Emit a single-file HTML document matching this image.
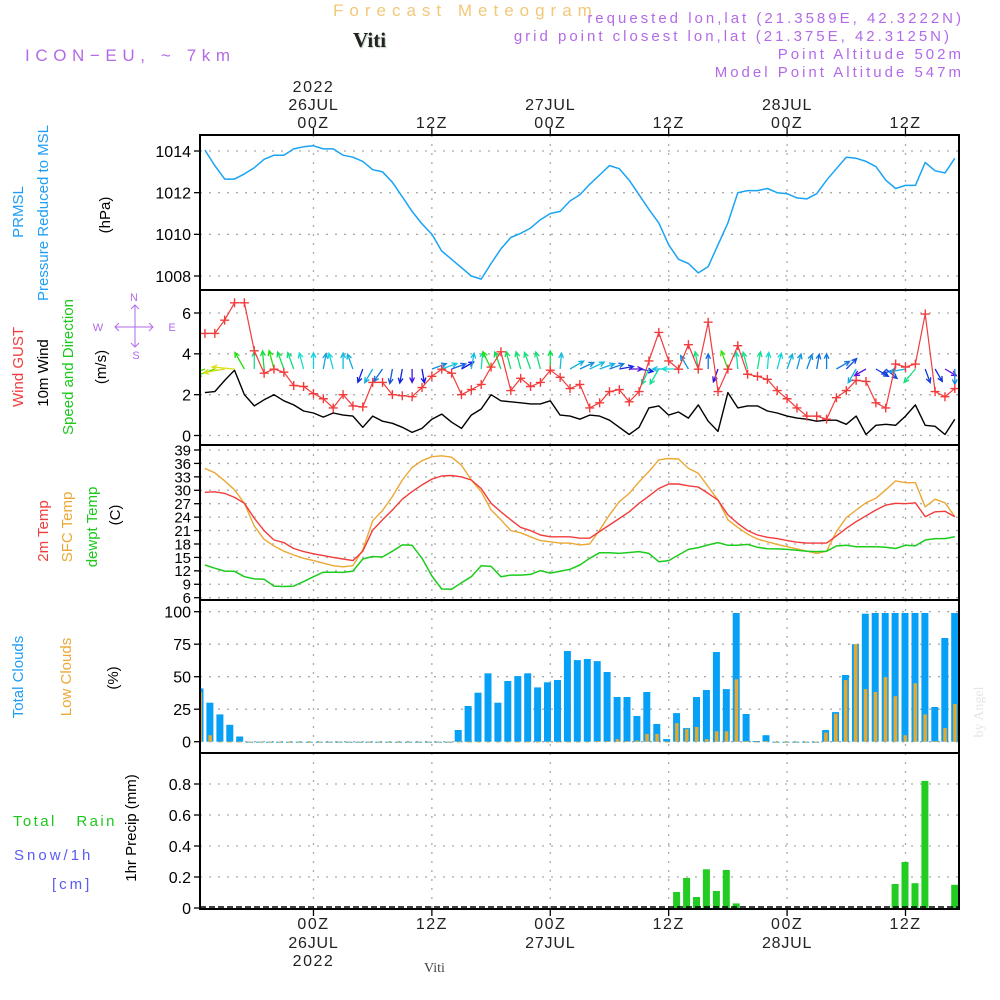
<!DOCTYPE html>
<html><head><meta charset="utf-8">
<style>
html,body{margin:0;padding:0;background:#fff;}
svg{display:block;font-family:"Liberation Sans",sans-serif;}
</style></head>
<body>
<svg id="chart" width="1000" height="1000" viewBox="0 0 1000 1000" xmlns="http://www.w3.org/2000/svg">
<rect x="0" y="0" width="1000" height="1000" fill="#fff"/>
<g id="header">
<text x="333" y="16" font-size="17" fill="#f2c879" letter-spacing="6">Forecast Meteogram</text>
<text x="353" y="47" font-size="21" font-weight="bold" font-family="Liberation Serif,serif" fill="#222" style="text-shadow:1px 1px 1px #bcd0bc">Viti</text>
<text x="25" y="61" font-size="17" fill="#b36ae8" letter-spacing="5.6">ICON−EU, ~ 7km</text>
<text x="964" y="23" font-size="15" fill="#b36ae8" text-anchor="end" letter-spacing="3">requested lon,lat (21.3589E, 42.3222N)</text>
<text x="952" y="41" font-size="15" fill="#b36ae8" text-anchor="end" letter-spacing="3">grid point closest lon,lat (21.375E, 42.3125N)</text>
<text x="964" y="59" font-size="15" fill="#b36ae8" text-anchor="end" letter-spacing="3">Point Altitude 502m</text>
<text x="964" y="77" font-size="15" fill="#b36ae8" text-anchor="end" letter-spacing="3">Model Point Altitude 547m</text>
</g>
<g id="left-labels" font-size="15">
<text transform="translate(23,212) rotate(-90)" text-anchor="middle" fill="#1e9ef5">PRMSL</text>
<text transform="translate(48,213) rotate(-90)" text-anchor="middle" fill="#1e9ef5">Pressure Reduced to MSL</text>
<text transform="translate(110,215) rotate(-90)" text-anchor="middle" fill="#000">(hPa)</text>
<text transform="translate(23,367) rotate(-90)" text-anchor="middle" fill="#f03c3c">Wind GUST</text>
<text transform="translate(48,373) rotate(-90)" text-anchor="middle" fill="#000">10m Wind</text>
<text transform="translate(73,367) rotate(-90)" text-anchor="middle" fill="#1cc81c">Speed and Direction</text>
<text transform="translate(106,367) rotate(-90)" text-anchor="middle" fill="#000">(m/s)</text>
<g fill="#b36ae8" stroke="#b36ae8" font-size="11">
<text x="134" y="301" text-anchor="middle" stroke="none">N</text>
<text x="98" y="331" text-anchor="middle" stroke="none">W</text>
<text x="172" y="331" text-anchor="middle" stroke="none">E</text>
<text x="136" y="359" text-anchor="middle" stroke="none">S</text>
<path d="M115,327 H153 M135,305 V347 M119,323 L115,327 L119,331 M149,323 L153,327 L149,331 M131,309 L135,305 L139,309 M131,343 L135,347 L139,343" fill="none" stroke-width="1"/>
</g>
<text transform="translate(48,531) rotate(-90)" text-anchor="middle" fill="#f03c3c">2m Temp</text>
<text transform="translate(72,527) rotate(-90)" text-anchor="middle" fill="#eba834">SFC Temp</text>
<text transform="translate(97,527) rotate(-90)" text-anchor="middle" fill="#1cc81c">dewpt Temp</text>
<text transform="translate(120,515) rotate(-90)" text-anchor="middle" fill="#000">(C)</text>
<text transform="translate(23,677) rotate(-90)" text-anchor="middle" fill="#1e9ef5">Total Clouds</text>
<text transform="translate(71,677) rotate(-90)" text-anchor="middle" fill="#eba834">Low Clouds</text>
<text transform="translate(118,678) rotate(-90)" text-anchor="middle" fill="#000">(%)</text>
<text transform="translate(136,828) rotate(-90)" text-anchor="middle" fill="#000">1hr Precip (mm)</text>
<text x="13" y="826" fill="#1cc81c" letter-spacing="2.4" xml:space="preserve" style="white-space:pre">Total   Rain</text>
<text x="14" y="860" fill="#5a5af5" letter-spacing="3">Snow/1h</text>
<text x="52" y="889" fill="#5a5af5" letter-spacing="3">[cm]</text>
</g>
<g id="plots"></g>
<text transform="translate(983,712) rotate(-90)" text-anchor="middle" font-family="Liberation Serif,serif" font-size="14" fill="#e6e6e6">by Angel</text>
<text x="424" y="972" font-family="Liberation Serif,serif" font-size="14" fill="#444">Viti</text>
</svg>
<script>
// ---- data ----
const pressure = [1014.05,1013.3,1012.65,1012.65,1012.9,1013.2,1013.6,1013.8,1013.8,1014.1,1014.2,1014.25,1014.1,1014.1,1013.8,1013.7,1013.5,1013.1,1013.0,1012.5,1011.8,1011.1,1010.5,1010.0,1009.2,1008.8,1008.4,1008.0,1007.85,1008.6,1009.3,1009.85,1010.05,1010.3,1010.7,1011.0,1011.1,1011.6,1011.9,1012.4,1012.85,1013.3,1013.15,1012.6,1011.9,1011.2,1010.55,1009.5,1008.8,1008.6,1008.15,1008.45,1009.5,1010.55,1012.0,1012.1,1012.1,1012.2,1012.0,1011.95,1011.75,1011.7,1011.95,1012.6,1013.15,1013.7,1013.65,1013.5,1013.25,1012.6,1012.2,1012.35,1012.35,1013.45,1013.05,1012.95,1013.65];
const wind10m = [2.1,2.15,2.7,3.2,2.0,1.45,1.75,2.0,1.7,1.5,1.2,1.1,0.9,1.1,1.0,0.95,0.4,0.95,0.7,0.6,0.4,0.15,0.35,0.8,1.05,0.65,0.35,1.0,1.3,2.0,1.7,1.65,1.6,1.55,1.55,1.7,1.0,0.95,0.8,1.0,0.95,0.75,0.4,0.05,0.4,1.35,1.45,1.0,1.15,0.85,1.5,0.7,0.2,2.1,1.35,1.45,1.45,1.2,1.1,0.95,0.85,0.8,0.7,0.75,0.75,0.55,0.95,0.05,0.5,0.55,0.5,0.95,1.5,0.5,0.45,0.05,0.8];
const windGust = [5.0,5.0,5.65,6.5,6.5,4.15,3.05,3.25,3.1,2.45,2.4,2.05,1.8,1.35,2.0,1.45,1.4,2.6,2.6,2.0,1.95,1.9,2.35,2.9,3.25,3.05,2.0,2.25,2.5,3.35,4.1,2.2,2.8,2.4,2.6,3.2,2.85,2.3,2.5,1.35,1.6,2.15,2.25,1.65,2.15,3.65,5.05,3.65,3.25,4.45,3.25,5.55,2.15,3.25,4.4,3.0,2.9,2.75,2.2,1.8,1.35,0.95,0.95,0.8,1.85,2.2,2.7,2.65,1.6,1.35,3.5,3.35,3.5,5.95,2.15,1.9,2.3];
const windDir = [250,250,260,275,330,0,355,345,340,340,345,0,10,345,0,340,200,210,215,190,190,180,170,70,70,70,60,10,5,335,340,345,345,340,345,0,5,60,65,65,70,70,80,90,100,205,210,270,270,330,350,0,200,340,355,345,10,5,15,20,15,20,10,0,60,45,210,240,120,130,250,260,220,160,150,120,180];
const temp2m = [29.55,29.65,29.3,28.4,27.1,23.75,21.0,18.9,18.3,17.0,16.3,15.8,15.4,15.0,14.65,14.3,16.4,21.1,23.4,25.6,28.0,29.7,31.2,32.5,33.2,33.3,33.0,32.3,30.4,27.1,25.2,23.4,21.7,21.0,20.0,19.6,19.6,19.6,19.3,19.3,20.8,22.25,23.7,25.2,27.1,28.7,30.4,31.4,31.4,31.0,30.7,29.3,27.8,24.5,22.6,21.0,20.0,19.5,19.2,18.75,18.4,18.2,18.2,18.2,19.8,21.5,23.0,24.3,25.6,26.7,27.1,27.0,27.2,24.1,25.2,25.3,24.1];
const tempSfc = [34.9,33.9,32.1,30.1,27.1,22.0,19.05,17.55,16.4,15.55,14.8,14.3,13.7,13.15,12.9,13.15,16.7,23.2,25.45,28.6,32.3,35.1,36.6,37.5,37.7,37.4,35.6,32.3,29.7,25.6,23.4,21.0,20.5,19.6,18.75,18.5,18.2,18.2,17.8,18.0,21.1,24.5,27.45,29.3,31.9,34.2,36.8,37.1,37.0,34.9,33.8,30.8,27.8,23.4,21.7,20.2,19.1,18.5,17.9,17.4,16.9,16.4,15.9,16.4,20.75,23.9,25.6,27.2,28.2,30.1,32.1,31.7,31.7,26.3,28.0,27.2,24.1];
const dewpt = [13.3,12.6,11.95,11.9,10.7,10.2,10.1,8.6,8.5,8.6,9.6,10.7,11.7,11.7,11.65,11.95,14.65,15.2,15.1,16.4,17.8,17.7,14.8,10.85,7.95,7.9,9.35,10.7,13.15,13.0,10.7,11.05,11.05,11.2,12.05,11.5,11.9,12.35,13.3,14.8,16.05,16.05,15.9,16.1,16.3,15.9,14.05,14.3,15.55,16.8,17.2,17.8,18.3,17.7,17.7,17.9,17.25,16.95,16.9,16.8,16.6,16.4,16.3,16.4,17.55,17.7,17.4,17.4,17.4,17.25,17.0,17.7,17.6,18.9,19.2,19.2,19.6];
const totalClouds = [41,30,21,13,4,0,0,0,0,0,0,0,0,0,0,0,0,0,0,0,0,0,0,0,0,0,9,27.5,37.7,52.6,30,46.7,50.5,52.6,41.8,45.7,47.5,69.8,62.8,63.6,62,53.6,34.4,34.4,19.8,38.2,13.6,2,22,10.5,34.4,39.8,69,40.5,99,21.3,0.5,5,0,0,0,0,0,9,22.8,51.3,75,98.5,99,99,99,99,99,99,26.7,79.8,99];
const lowClouds = [38,5,0,0,0,0,0,0,0,0,0,0,0,0,0,0,0,0,0,0,0,0,0,0,0,0,0,0,0,0,0,0,0,0,0,0,0,0,0,0,0.5,0.5,2,0.5,1,6,6,0,14.3,9.7,11.3,2,8,8,48,0.5,0,0.5,0,0,0,0,0,7,21.5,47.4,75,40.5,38.2,49.7,35,5,45,21,0.5,10.5,29];
const precip = [0,0,0,0,0,0,0,0,0,0,0,0,0,0,0,0,0,0,0,0,0,0,0,0,0,0,0,0,0,0,0,0,0,0,0,0,0,0,0,0,0,0,0,0,0,0,0,0,0.103,0.194,0.071,0.25,0.11,0.245,0.03,0,0,0,0,0,0,0,0,0,0,0,0,0,0,0,0.155,0.297,0.16,0.82,0,0,0.15];
const pressureTicks = [1008,1010,1012,1014];
const windTicks = [0,2,4,6];
const tempTicks = [6,9,12,15,18,21,24,27,30,33,36,39];
const cloudTicks = [0,25,50,75,100];
const precipTicks = [0,0.2,0.4,0.6,0.8];
const timeTicks = ["00Z","12Z","00Z","12Z","00Z","12Z"];
const timeTickHours = [11.5,23.5,35.5,47.5,59.5,71.5];
const dateLabels = ["26JUL","27JUL","28JUL"];
const dateHours = [11.5,35.5,59.5];

// ---- scales ----
const X0=200, X1=959, PXH=9.867;
const xTime = h => X0 + h*PXH;
const xLine = i => xTime(0.5 + i);
const xBar = j => X0 + j*9.93;
const lin = (d0,d1,r0,r1) => v => r0 + (v-d0)*(r1-r0)/(d1-d0);
const yP = lin(1008,1014,276,151);
const yW = lin(0,6,435.5,313);
const yT = lin(6,39,597.7,450);
const yC = lin(0,100,741.7,611.7);
const yR = lin(0,0.8,908,784);

const NS='http://www.w3.org/2000/svg';
const plots=document.getElementById('plots');
function mk(tag,attrs,parent){const e=document.createElementNS(NS,tag);for(const k in attrs)e.setAttribute(k,attrs[k]);(parent||plots).appendChild(e);return e;}

const panels=[
 {name:'pressure-panel',top:135,bot:290},
 {name:'wind-panel',top:290,bot:445},
 {name:'temp-panel',top:445,bot:600},
 {name:'cloud-panel',top:600,bot:753},
 {name:'precip-panel',top:753,bot:909}
];
const defs=mk('defs',{});
panels.forEach((p,k)=>{const c=mk('clipPath',{id:'clip'+k},defs);mk('rect',{x:X0,y:p.top,width:X1-X0,height:p.bot-p.top},c);});

function grid(p,k,ticks,yf,fmt,fs,name){
  const g=mk('g',{});
  
  
  timeTickHours.forEach(h=>{mk('line',{x1:xTime(h),x2:xTime(h),y1:p.top,y2:p.bot,stroke:'#aaa','stroke-dasharray':'2,7','stroke-width':1.3},g);});
  ticks.forEach(t=>{const y=yf(t);
    if(y>p.top+2&&y<p.bot-2) mk('line',{x1:X0,x2:X1,y1:y,y2:y,stroke:'#aaa','stroke-dasharray':'2,7','stroke-width':1.3},g);
    mk('line',{x1:X0-6,x2:X0,y1:y,y2:y,stroke:'#000','stroke-width':1.3},g);
    const t1=mk('text',{x:X0-9,y:y+(fs*0.36),'text-anchor':'end','font-size':fs,fill:'#000'},g);
    
    
    t1.textContent=fmt(t);
  });
}
grid(panels[0],0,pressureTicks,yP,v=>v,16,'pressure');
grid(panels[1],1,windTicks,yW,v=>v,16,'wind');
grid(panels[2],2,tempTicks,yT,v=>v,15,'temp');
grid(panels[3],3,cloudTicks,yC,v=>v,16,'cloud');
grid(panels[4],4,precipTicks,yR,v=>v===0?'0':v.toFixed(1),16,'precip');

function line(arr,yf,color,k,name,w){
  const d=arr.map((v,i)=>(i?'L':'M')+xLine(i).toFixed(1)+','+yf(v).toFixed(1)).join('');
  const p=mk('path',{d:d,fill:'none',stroke:color,'stroke-width':w||1.4,'clip-path':'url(#clip'+k+')','stroke-linejoin':'round'});
  
  
  return p;
}
line(pressure,yP,'#1aa3f5',0,'pressure-line',1.5);
const ag=mk('g',{'clip-path':'url(#clip1)'});


windDir.forEach((dir,i)=>{
  const sp=wind10m[i];
  const hue=Math.max(60,Math.min(275,265-sp*75));
  const col='hsl('+hue+',85%,47%)';
  const L=13+sp*3;
  const a=dir*Math.PI/180;
  const dx=Math.sin(a),dy=-Math.cos(a);
  const x1=xLine(i), y1=369;
  const x2=x1+dx*L, y2=y1+dy*L;
  const h=5.5, b1=a+Math.PI-0.45, b2=a+Math.PI+0.45;
  const d='M'+x1.toFixed(1)+','+y1.toFixed(1)+'L'+x2.toFixed(1)+','+y2.toFixed(1)+
    'M'+(x2+Math.sin(b1)*h).toFixed(1)+','+(y2-Math.cos(b1)*h).toFixed(1)+'L'+x2.toFixed(1)+','+y2.toFixed(1)+'L'+(x2+Math.sin(b2)*h).toFixed(1)+','+(y2-Math.cos(b2)*h).toFixed(1);
  const p=mk('path',{d:d,fill:'none',stroke:col,'stroke-width':1.3},ag);
  
  
});
line(wind10m,yW,'#000',1,'wind-10m-line',1.4);
line(windGust,yW,'#f23c3c',1,'wind-gust-line',1.2);
const mg=mk('g',{'clip-path':'url(#clip1)'});


windGust.forEach((v,i)=>{const x=xLine(i),y=yW(v);
  const p=mk('path',{d:'M'+(x-4.5)+','+y+'H'+(x+4.5)+'M'+x+','+(y-4.5)+'V'+(y+4.5),stroke:'#f23c3c','stroke-width':1.4},mg);
  
  
});
line(tempSfc,yT,'#eba834',2,'sfc-temp-line',1.4);
line(temp2m,yT,'#f23c3c',2,'2m-temp-line',1.4);
line(dewpt,yT,'#1ccc1c',2,'dewpt-line',1.5);
const cg=mk('g',{'clip-path':'url(#clip3)'});


totalClouds.forEach((v,j)=>{const x=xBar(j);
  const r=mk('rect',{x:(x-3.5).toFixed(1),y:yC(v).toFixed(1),width:7,height:Math.max(1,yC(0)-yC(v)).toFixed(1),fill:'#07a0f7'},cg);
  
  
});
lowClouds.forEach((v,j)=>{const x=xBar(j);
  const r=mk('rect',{x:(x-1.5).toFixed(1),y:yC(v).toFixed(1),width:3.5,height:Math.max(0.8,yC(0)-yC(v)).toFixed(1),fill:'#e8a82c'},cg);
  
  
});
const pg=mk('g',{'clip-path':'url(#clip4)'});


precip.forEach((v,j)=>{if(v<=0)return;const x=xBar(j);
  const r=mk('rect',{x:(x-3.5).toFixed(1),y:yR(v).toFixed(1),width:7,height:(yR(0)-yR(v)).toFixed(1),fill:'#22cc22'},pg);
  
  
});
mk('line',{x1:X0,x2:X1,y1:907,y2:907,stroke:'#000','stroke-width':1.5,'stroke-dasharray':'6,3'});
panels.forEach(p=>{const r=mk('rect',{x:X0,y:p.top,width:X1-X0,height:p.bot-p.top,fill:'none',stroke:'#000','stroke-width':2});
  
  
});
timeTickHours.forEach((h,k)=>{const x=xTime(h);
  mk('line',{x1:x,x2:x,y1:128,y2:135,stroke:'#000','stroke-width':1.3});
  mk('line',{x1:x,x2:x,y1:909,y2:916,stroke:'#000','stroke-width':1.3});
  const t=mk('text',{x:x,y:128,'text-anchor':'middle','font-size':16,fill:'#222','letter-spacing':1.5});
  
  
  t.textContent=timeTicks[k];
  const b=mk('text',{x:x,y:929,'text-anchor':'middle','font-size':16,fill:'#222','letter-spacing':1.5});
  
  
  b.textContent=timeTicks[k];
});
dateHours.forEach((h,k)=>{const x=xTime(h);
  const t=mk('text',{x:x,y:110,'text-anchor':'middle','font-size':16,fill:'#222','letter-spacing':0.8});
  
  
  t.textContent=dateLabels[k];
  const b=mk('text',{x:x,y:948,'text-anchor':'middle','font-size':16,fill:'#222','letter-spacing':0.8});
  
  
  b.textContent=dateLabels[k];
});
const y1=mk('text',{x:xTime(dateHours[0]),y:92,'text-anchor':'middle','font-size':16,fill:'#222','letter-spacing':1.5});


y1.textContent='2022';
const y2=mk('text',{x:xTime(dateHours[0]),y:966,'text-anchor':'middle','font-size':16,fill:'#222','letter-spacing':1.5});


y2.textContent='2022';
</script>
</body></html>
